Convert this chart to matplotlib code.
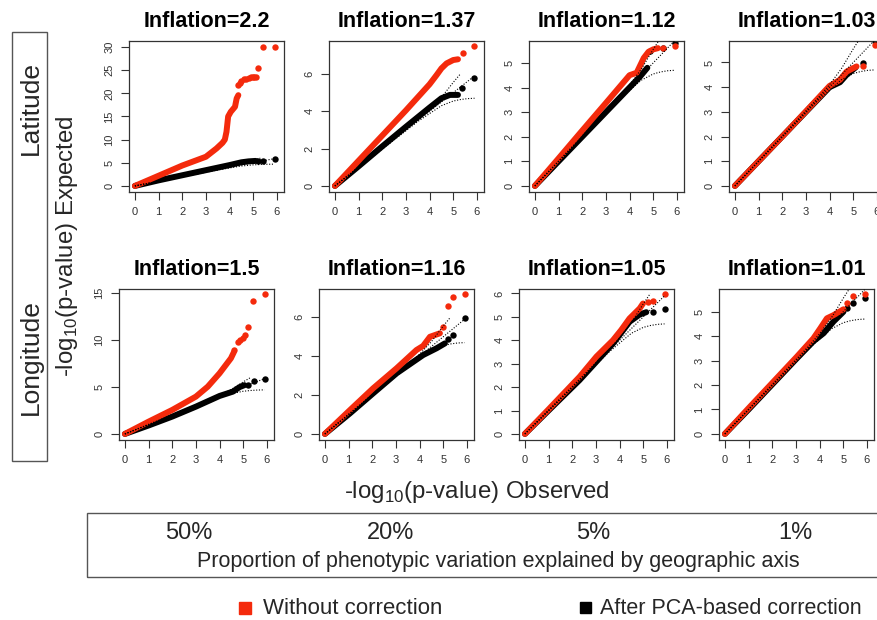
import numpy as np
import matplotlib
matplotlib.use('Agg')
import matplotlib.pyplot as plt
from matplotlib.patches import Rectangle

# panel titles, row/column labels
row_names = ['Latitude', 'Longitude']
col_names = ['50%', '20%', '5%', '1%']
inflation = [['2.2', '1.37', '1.12', '1.03'],
             ['1.5', '1.16', '1.05', '1.01']]

# QQ points: (expected, observed) -log10(p)
# "curve" = dense part of the cloud, "tail" = the few isolated top points
lat50_red = [(0, 0), (1, 2.2), (2, 4.4), (3, 6.3), (3.45, 8.1), (3.7, 9.3), (3.8, 10.0),
             (3.87, 11.7), (3.94, 15.0), (4.05, 16.0), (4.23, 17.1), (4.3, 18.9), (4.37, 19.6)]
lat50_red_tail = [(4.37, 21.8), (4.42, 22.3), (4.5, 22.7), (4.6, 23.0), (4.7, 23.2), (4.8, 23.4),
                  (4.9, 23.5), (5.0, 23.6), (5.05, 23.6), (5.1, 23.6), (5.2, 25.4), (5.42, 29.9), (5.91, 30.1)]
lat50_black = [(0, 0), (1, 1.2), (2, 2.3), (3, 3.4), (4, 4.5), (4.5, 5.1), (4.8, 5.3), (5.1, 5.4)]
lat50_black_tail = [(5.21, 5.4), (5.42, 5.4), (5.91, 5.8)]

lat20_red = [(0, 0), (1, 1.35), (2, 2.7), (3, 4.05), (4, 5.45), (4.3, 5.95), (4.5, 6.3),
             (4.72, 6.57), (5.0, 6.75), (5.2, 6.79)]
lat20_red_tail = [(5.42, 7.1), (5.89, 7.5)]
lat20_black = [(0, 0), (1, 1.05), (2, 2.12), (3, 3.17), (4, 4.2), (4.5, 4.7), (4.86, 4.88), (5.2, 4.88)]
lat20_black_tail = [(5.39, 5.25), (5.89, 5.77)]

lat5_red = [(0, 0), (1, 1.12), (2, 2.25), (3, 3.37), (4, 4.5), (4.3, 4.6), (4.45, 4.9),
            (4.6, 5.2), (4.8, 5.45), (5.0, 5.55), (5.2, 5.6)]
lat5_red_tail = [(5.42, 5.62), (5.9, 5.7)]
lat5_black = [(0, 0), (1, 1.0), (2, 2.0), (3, 3.0), (4, 4.0), (4.44, 4.44), (4.75, 4.8)]
lat5_black_tail = [(4.85, 5.5), (5.42, 5.6), (5.9, 5.8)]

lat1_red = [(0, 0), (1, 1.0), (2, 2.0), (3, 3.02), (4, 4.05), (4.44, 4.3), (4.72, 4.63), (5.14, 4.84)]
lat1_red_tail = [(5.42, 4.84), (5.92, 5.72)]
lat1_black = [(0, 0), (1, 1), (2, 2), (3, 3), (4, 4.0), (4.44, 4.2), (4.72, 4.5), (5.1, 4.8)]
lat1_black_tail = [(5.42, 4.98), (5.92, 5.85)]

lon50_red = [(0, 0), (1, 1.31), (2, 2.56), (3, 3.98), (3.5, 5.04), (4, 6.47), (4.48, 8.07), (4.6, 8.7)]
lon50_red_tail = [(4.63, 8.95), (4.77, 9.84), (4.85, 10.0), (4.99, 10.2), (5.06, 10.55),
                  (5.2, 11.4), (5.41, 14.18), (5.9, 14.9)]
lon50_black = [(0, 0), (1, 0.9), (2, 1.85), (3, 2.91), (4, 4.05), (4.56, 4.51), (4.85, 5.0), (5.05, 5.2)]
lon50_black_tail = [(5.2, 5.22), (5.44, 5.69), (5.93, 5.83)]

lon20_red = [(0, 0), (1.06, 1.23), (2.04, 2.35), (3.03, 3.38), (3.87, 4.32), (4.15, 4.53),
             (4.44, 5.0), (4.86, 5.18)]
lon20_red_tail = [(5.01, 5.49), (5.21, 6.6), (5.42, 7.06), (5.92, 7.19)]
lon20_black = [(0, 0), (1.06, 1.06), (2.04, 2.09), (3.03, 3.12), (4.15, 4.06), (4.72, 4.41), (5.07, 4.66)]
lon20_black_tail = [(5.21, 4.89), (5.42, 5.09), (5.92, 5.98)]

lon5_red = [(0, 0), (1, 1.05), (2.31, 2.44), (3.02, 3.3), (3.72, 4.0), (4.07, 4.44),
            (4.42, 4.93), (4.85, 5.36), (4.99, 5.57)]
lon5_red_tail = [(5.2, 5.64), (5.42, 5.67), (5.92, 5.96)]
lon5_black = [(0, 0), (1, 1.0), (2.31, 2.3), (3.72, 3.86), (4.42, 4.79), (4.85, 5.1), (5.13, 5.2)]
lon5_black_tail = [(5.42, 5.2), (5.92, 5.33)]

lon1_red = [(0, 0), (0.93, 0.98), (3.04, 3.16), (3.74, 3.91), (4.03, 4.32), (4.31, 4.73),
            (4.59, 4.86), (5.01, 5.1)]
lon1_red_tail = [(5.15, 5.34), (5.43, 5.64), (5.93, 5.71)]
lon1_black = [(0, 0), (1, 1), (3, 3.05), (3.74, 3.79), (4.17, 4.12), (4.59, 4.6), (5.01, 5.0)]
lon1_black_tail = [(5.15, 5.14), (5.43, 5.34), (5.93, 5.55)]

# null line and confidence band
null_x = [0, 5.9]
ci_upper_x = [0, 3.5, 4.0, 4.5, 5.0, 5.3]
ci_upper = [0, 3.55, 4.1, 4.75, 5.55, 6.0]
ci_lower_x = [0, 3.5, 4.0, 4.5, 5.0, 5.3, 5.6, 5.9]
ci_lower = [0, 3.45, 3.88, 4.3, 4.55, 4.63, 4.68, 4.7]

# axis ranges and ticks
y_tops = [[31.3, 7.77, 5.89, 5.87], [15.46, 7.46, 6.19, 5.93]]
y_ticks = [[[0, 5, 10, 15, 20, 25, 30], [0, 2, 4, 6], [0, 1, 2, 3, 4, 5], [0, 1, 2, 3, 4, 5]],
           [[0, 5, 10, 15], [0, 2, 4, 6], [0, 1, 2, 3, 4, 5, 6], [0, 1, 2, 3, 4, 5]]]
x_ticks = [0, 1, 2, 3, 4, 5, 6]

panels = [[(lat50_red, lat50_red_tail, lat50_black, lat50_black_tail),
           (lat20_red, lat20_red_tail, lat20_black, lat20_black_tail),
           (lat5_red, lat5_red_tail, lat5_black, lat5_black_tail),
           (lat1_red, lat1_red_tail, lat1_black, lat1_black_tail)],
          [(lon50_red, lon50_red_tail, lon50_black, lon50_black_tail),
           (lon20_red, lon20_red_tail, lon20_black, lon20_black_tail),
           (lon5_red, lon5_red_tail, lon5_black, lon5_black_tail),
           (lon1_red, lon1_red_tail, lon1_black, lon1_black_tail)]]

RED = '#f42a0c'
TXT = '#262626'
W, H = 878, 620
SANS = 'Liberation Sans'

plt.rcParams['mathtext.fontset'] = 'custom'
plt.rcParams['mathtext.rm'] = SANS

fig = plt.figure(figsize=(W / 100, H / 100), dpi=100)


def fx(px):
    return px / W


def fy(py):
    return 1 - py / H


def draw_series(ax, curve, tail, color):
    c = np.array(curve)
    ax.plot(c[:, 0], c[:, 1], '-', color=color, lw=4.3, solid_capstyle='round',
            solid_joinstyle='round', zorder=2)
    t = np.array(tail)
    ax.plot(t[:, 0], t[:, 1], 'o', color=color, ms=4.6, mew=0, zorder=2)


row_top = [41, 289]
row_left = [129, 119]
title_base = [27, 275]
dots = dict(color='black', ls=(0, (1, 1.5)), lw=0.8, zorder=3)
for r in range(2):
    for c in range(4):
        left = row_left[r] + 200 * c
        ax = fig.add_axes([fx(left), fy(row_top[r] + 151), fx(155), 151 / H])
        red, red_tail, black, black_tail = panels[r][c]
        draw_series(ax, black, black_tail, 'black')
        draw_series(ax, red, red_tail, RED)
        ax.plot(null_x, null_x, **dots)
        ax.plot(ci_upper_x, ci_upper, **dots)
        ax.plot(ci_lower_x, ci_lower, **dots)
        top = y_tops[r][c]
        ax.set_xlim(-0.25, 6.3)
        ax.set_ylim(-0.042 * top, top)
        ax.set_xticks(x_ticks)
        ax.set_yticks(y_ticks[r][c])
        ax.tick_params(length=5.5, width=0.8, color='#333333', labelsize=8,
                       labelcolor='#333333', pad=5)
        ax.tick_params(axis='y', labelrotation=90)
        for lab in ax.get_xticklabels() + ax.get_yticklabels():
            lab.set_family(SANS)
        for lab in ax.get_yticklabels():
            lab.set_va('center')
        for s in ax.spines.values():
            s.set_color('#333333')
            s.set_linewidth(0.9)
        fig.text(fx(left + 77.5), fy(title_base[r]), 'Inflation=' + inflation[r][c],
                 ha='center', va='baseline', fontsize=15.5, fontweight='bold', family=SANS)

# row label box
fig.add_artist(Rectangle((fx(12), fy(461)), fx(35), (461 - 32) / H, fill=False,
                         ec='#555555', lw=1, transform=fig.transFigure))
fig.text(fx(31), fy(108), row_names[0], rotation=90, ha='center', va='center',
         fontsize=19, family=SANS, color=TXT)
fig.text(fx(31), fy(357), row_names[1], rotation=90, ha='center', va='center',
         fontsize=19, family=SANS, color=TXT)

fig.text(fx(67), fy(246), r'-log$_{10}$(p-value) Expected', rotation=90, ha='center',
         va='center', fontsize=17.3, family=SANS, color=TXT)
fig.text(fx(477), fy(492), r'-log$_{10}$(p-value) Observed', ha='center',
         va='center', fontsize=17.3, family=SANS, color=TXT)

# column label box
fig.add_artist(Rectangle((fx(87), fy(577)), fx(800), (577 - 513) / H, fill=False,
                         ec='#555555', lw=1, transform=fig.transFigure))
for c, name in enumerate(col_names):
    fig.text(fx(189 + 202 * c), fy(533), name, ha='center', va='center',
             fontsize=17, family=SANS, color=TXT)
fig.text(fx(498), fy(562), 'Proportion of phenotypic variation explained by geographic axis',
         ha='center', va='center', fontsize=15.5, family=SANS, color=TXT)

# legend
fig.add_artist(Rectangle((fx(239), fy(614)), fx(12), 12 / H, color=RED,
                         transform=fig.transFigure))
fig.text(fx(263), fy(608), 'Without correction', ha='left', va='center',
         fontsize=16, family=SANS, color=TXT)
fig.add_artist(Rectangle((fx(580), fy(613)), fx(11), 11 / H, color='black',
                         transform=fig.transFigure))
fig.text(fx(600), fy(608), 'After PCA-based correction', ha='left', va='center',
         fontsize=15.5, family=SANS, color=TXT)

fig.savefig('out.png', dpi=100)
